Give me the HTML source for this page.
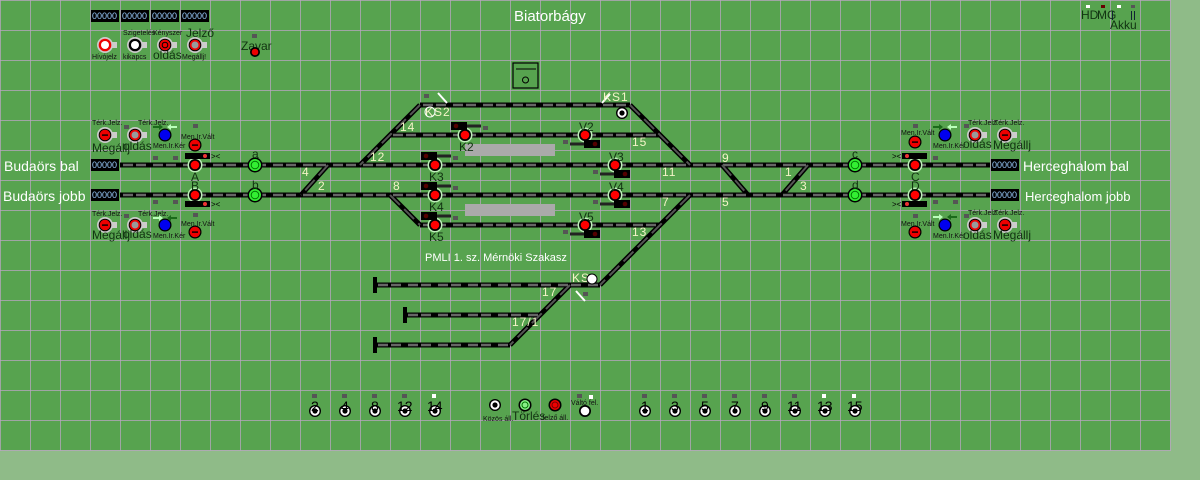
<!DOCTYPE html>
<html><head><meta charset="utf-8"><style>
html,body{margin:0;padding:0;background:#8fbb88;width:1200px;height:480px;overflow:hidden}
svg{display:block}
text{font-family:"Liberation Sans",sans-serif}
.t{font-size:7px;fill:#111}
.l{font-size:12px;fill:#113311}
.bn{font-size:14px;fill:#000}
.n{font-size:12px;fill:#f4f4c8;letter-spacing:1px}
.w{fill:#fff}
.cnt{font-size:9px;fill:#9cf}
</style></head><body>
<svg width="1200" height="480" viewBox="0 0 1200 480" xmlns="http://www.w3.org/2000/svg">
<defs>
<pattern id="g" width="30" height="30" patternUnits="userSpaceOnUse">
<path d="M0 0H30M0 0V30" stroke="#b9a6c0" stroke-width="1.5" fill="none"/>
</pattern>
<g id="sr"><circle r="7.5" fill="#bdf0b8"/><circle r="6" fill="#000"/><circle r="4.3" fill="#f00"/></g>
<g id="sg"><circle r="7.5" fill="#000"/><circle r="6" fill="#3e3"/><circle r="3.8" fill="none" stroke="#070" stroke-width="1"/></g>
<g id="bm"><rect x="0" y="-3" width="12" height="6" fill="#ccc"/><circle r="8" fill="#ccc"/><circle r="6.3" fill="#000"/><circle r="5.3" fill="#e00"/><rect x="-3" y="-0.6" width="6" height="1.4" fill="#000"/></g>
<g id="bo"><rect x="0" y="-3" width="12" height="6" fill="#ccc"/><circle r="8" fill="#ccc"/><circle r="6.3" fill="#000"/><circle r="5.3" fill="#e00"/><circle r="3.5" fill="#999"/></g>
<g id="bw"><rect x="0" y="-3" width="12" height="6" fill="#ccc"/><circle r="8" fill="#ccc"/><circle r="6.3" fill="#e00"/><circle r="4" fill="#fff"/></g>
<g id="bk"><rect x="0" y="-3" width="12" height="6" fill="#ccc"/><circle r="8" fill="#ccc"/><circle r="6.3" fill="#000"/><circle r="4" fill="#fff"/></g>
<g id="bb"><circle r="6.5" fill="#000"/><circle r="5.3" fill="#00e"/></g>
<g id="br"><circle r="6.5" fill="#000"/><circle r="5.3" fill="#e00"/><rect x="-3" y="-0.6" width="6" height="1.4" fill="#000"/></g>
<g id="bt"><circle r="6" fill="#000"/><circle r="4.6" fill="#fff"/><circle r="2.6" fill="#000"/></g>
<g id="dt"><rect x="-3" y="-2" width="5" height="4" fill="#555"/></g>
<g id="shL"><rect x="0" y="-4" width="16" height="8" fill="#000"/><circle cx="5" cy="0" r="2.3" fill="#500"/><rect x="16" y="-1.5" width="14" height="3" fill="#222"/></g>
</defs>
<rect x="0" y="0" width="1170" height="450" fill="#57a34f"/>
<rect x="0" y="0" width="1171" height="451" fill="url(#g)"/>

<g fill="none" stroke-linecap="butt">
<g stroke="#000" stroke-width="5">
<path d="M120 165H990M120 195H990M420 105H630M390 135H660M420 225H660M375 285H600M405 315H540M375 345H510"/>
<path d="M420 105L360 165M630 105L690 165M390 195L420 225M690 195L600 285M570 285L510 345M328 165L301 195M722 165L748 195M808 165L782 195"/>
<path d="M375 277V293M405 307V323M375 337V353" stroke-width="4"/>
</g>
<g stroke="#666" stroke-width="2.5" stroke-dasharray="10 3 10 7" stroke-dashoffset="-3">
<path d="M120 165H990M120 195H990M420 105H630M390 135H660M420 225H660M375 285H600M405 315H540M375 345H510"/>
</g>
<g stroke="#555" stroke-width="2" stroke-dasharray="14 6">
<path d="M420 105L360 165M630 105L690 165M390 195L420 225M690 195L600 285M570 285L510 345M328 165L301 195M722 165L748 195M808 165L782 195"/>
</g>
</g>
<path d="M438 93L447 103M602 103L610 94M576 291L585 301" stroke="#fff" stroke-width="2"/>

<rect x="465" y="144" width="90" height="12" fill="#aaa"/>
<rect x="465" y="204" width="90" height="12" fill="#aaa"/>
<rect x="513" y="63" width="25" height="25" fill="none" stroke="#000" stroke-width="1.2"/>
<line x1="516" y1="69" x2="536" y2="69" stroke="#000"/>
<circle cx="525.5" cy="80" r="3" fill="none" stroke="#000"/>

<g>
<rect x="91" y="10" width="28" height="12" fill="#000"/><rect x="121" y="10" width="28" height="12" fill="#000"/>
<rect x="151" y="10" width="28" height="12" fill="#000"/><rect x="181" y="10" width="28" height="12" fill="#000"/>
<rect x="91" y="159" width="28" height="12" fill="#000"/><rect x="91" y="189" width="28" height="12" fill="#000"/>
<rect x="991" y="159" width="28" height="12" fill="#000"/><rect x="991" y="189" width="28" height="12" fill="#000"/>
<text class="cnt" x="92" y="19">00000</text><text class="cnt" x="122" y="19">00000</text>
<text class="cnt" x="152" y="19">00000</text><text class="cnt" x="182" y="19">00000</text>
<text class="cnt" x="92" y="168">00000</text><text class="cnt" x="92" y="198">00000</text>
<text class="cnt" x="992" y="168">00000</text><text class="cnt" x="992" y="198">00000</text>
</g>

<text x="514" y="21" class="w" font-size="15">Biatorbágy</text>
<text x="4" y="171" class="w" font-size="14">Budaörs bal</text>
<text x="3" y="201" class="w" font-size="14">Budaörs jobb</text>
<text x="1023" y="171" class="w" font-size="14">Herceghalom bal</text>
<text x="1025" y="201" class="w" font-size="13">Herceghalom jobb</text>
<text x="425" y="261" class="w" font-size="11">PMLI 1. sz. Mérnöki Szakasz</text>

<use href="#bw" x="105" y="45"/><use href="#bk" x="135" y="45"/><use href="#bm" x="165" y="45"/><use href="#bo" x="195" y="45"/>
<circle cx="165" cy="45" r="3.3" fill="#000"/><circle cx="165" cy="45" r="2.3" fill="#e00"/>
<text class="t" x="123" y="35" font-size="6">Szigetelés</text><text class="t" x="153" y="35" font-size="6">Kényszer</text>
<text class="l" x="186" y="37" font-size="11">Jelző</text>
<text class="t" x="92" y="59" font-size="9">Hívójelz</text><text class="t" x="123" y="59" font-size="9">kikapcs</text>
<text class="l" x="153" y="59" font-size="11">oldás</text><text class="t" x="182" y="59" font-size="9">Megállj!</text>
<text class="l" x="241" y="50">Zavar</text><circle cx="255" cy="52" r="5" fill="#000"/><circle cx="255" cy="52" r="3.3" fill="#e00"/><use href="#dt" x="255" y="36"/>

<g>
<use href="#bm" x="105" y="135"/><use href="#bo" x="135" y="135"/><use href="#bb" x="165" y="135"/><use href="#br" x="195" y="145"/>
<text class="t" x="92" y="125">Térk.Jelz.</text><text class="t" x="138" y="125" font-size="6">Térk.Jelz.</text>
<text class="l" x="92" y="152">Megállj</text><text class="l" x="123" y="150">oldás</text>
<text class="t" x="153" y="148" font-size="6">Men.Ir.Kér</text><text class="t" x="181" y="139" font-size="6">Men.Ir.Vált</text>
<path d="M153 126h6v-2l4 3-4 3v-2h-6z" fill="#1a6a1a"/><path d="M177 126h-6v-2l-4 3 4 3v-2h6z" fill="#bfb"/>
<use href="#dt" x="127" y="127"/><use href="#dt" x="196" y="126"/>
<use href="#bm" x="105" y="225"/><use href="#bo" x="135" y="225"/><use href="#bb" x="165" y="225"/><use href="#br" x="195" y="232"/>
<text class="t" x="92" y="216">Térk.Jelz.</text><text class="t" x="138" y="216" font-size="6">Térk.Jelz.</text>
<text class="l" x="92" y="239">Megállj</text><text class="l" x="123" y="238">oldás</text>
<text class="t" x="153" y="238" font-size="6">Men.Ir.Kér</text><text class="t" x="181" y="226" font-size="6">Men.Ir.Vált</text>
<path d="M153 217h6v-2l4 3-4 3v-2h-6z" fill="#bfb"/><path d="M177 217h-6v-2l-4 3 4 3v-2h6z" fill="#1a6a1a"/>
<use href="#dt" x="127" y="216"/><use href="#dt" x="196" y="215"/>
<use href="#dt" x="156" y="158"/><use href="#dt" x="176" y="158"/><use href="#dt" x="156" y="202"/><use href="#dt" x="176" y="202"/>
</g>
<g>
<use href="#br" x="915" y="142"/><use href="#bb" x="945" y="135"/><use href="#bo" x="975" y="135"/><use href="#bm" x="1005" y="135"/>
<text class="t" x="901" y="135" font-size="6">Men.Ir.Vált</text><text class="t" x="933" y="148" font-size="6">Men.Ir.Kér</text>
<text class="l" x="963" y="148">oldás</text><text class="l" x="993" y="149">Megállj</text>
<text class="t" x="968" y="125" font-size="6">Térk.Jelz.</text><text class="t" x="994" y="125" font-size="6">Térk.Jelz.</text>
<path d="M933 126h6v-2l4 3-4 3v-2h-6z" fill="#1a6a1a"/><path d="M957 126h-6v-2l-4 3 4 3v-2h6z" fill="#bfb"/>
<use href="#dt" x="916" y="126"/><use href="#dt" x="967" y="126"/>
<use href="#br" x="915" y="232"/><use href="#bb" x="945" y="225"/><use href="#bo" x="975" y="225"/><use href="#bm" x="1005" y="225"/>
<text class="t" x="901" y="226" font-size="6">Men.Ir.Vált</text><text class="t" x="933" y="238" font-size="6">Men.Ir.Kér</text>
<text class="l" x="963" y="239">oldás</text><text class="l" x="993" y="239">Megállj</text>
<text class="t" x="968" y="215" font-size="6">Térk.Jelz.</text><text class="t" x="994" y="215" font-size="6">Térk.Jelz.</text>
<path d="M933 216h6v-2l4 3-4 3v-2h-6z" fill="#bfb"/><path d="M957 216h-6v-2l-4 3 4 3v-2h6z" fill="#1a6a1a"/>
<use href="#dt" x="916" y="216"/><use href="#dt" x="967" y="216"/>
<use href="#dt" x="936" y="158"/><use href="#dt" x="936" y="202"/><use href="#dt" x="956" y="202"/>
</g>

<use href="#sr" x="195" y="165"/><use href="#sr" x="195" y="195"/><use href="#sg" x="255" y="165"/><use href="#sg" x="255" y="195"/>
<use href="#sr" x="915" y="165"/><use href="#sr" x="915" y="195"/><use href="#sg" x="855" y="165"/><use href="#sg" x="855" y="195"/>
<text class="l" x="191" y="181">A</text><text class="l" x="191" y="190">B</text><text class="l" x="252" y="158" font-size="9">a</text><text class="l" x="252" y="189" font-size="9">b</text>
<text class="l" x="911" y="181">C</text><text class="l" x="911" y="190">D</text><text class="l" x="852" y="158" font-size="9">c</text><text class="l" x="852" y="189" font-size="9">d</text>
<g fill="#000"><rect x="185" y="153" width="25" height="6"/><rect x="185" y="201" width="25" height="6"/><rect x="902" y="153" width="25" height="6"/><rect x="902" y="201" width="25" height="6"/></g>
<circle cx="205" cy="156" r="2" fill="#e33"/><circle cx="205" cy="204" r="2" fill="#e33"/><circle cx="907" cy="156" r="2" fill="#e33"/><circle cx="907" cy="204" r="2" fill="#e33"/>
<text x="211" y="159" font-size="8" fill="#000">&gt;&lt;</text><text x="211" y="207" font-size="8" fill="#000">&gt;&lt;</text>
<text x="892" y="159" font-size="8" fill="#000">&gt;&lt;</text><text x="892" y="207" font-size="8" fill="#000">&gt;&lt;</text>

<use href="#sr" x="465" y="135"/><use href="#sr" x="435" y="165"/><use href="#sr" x="435" y="195"/><use href="#sr" x="435" y="225"/>
<use href="#sr" x="585" y="135"/><use href="#sr" x="615" y="165"/><use href="#sr" x="615" y="195"/><use href="#sr" x="585" y="225"/>
<text class="l" x="459" y="151">K2</text><text class="l" x="429" y="181">K3</text><text class="l" x="429" y="211">K4</text><text class="l" x="429" y="241">K5</text>
<text class="l" x="579" y="131">V2</text><text class="l" x="609" y="161">V3</text><text class="l" x="609" y="191">V4</text><text class="l" x="579" y="221">V5</text>
<use href="#shL" x="451" y="126"/><use href="#shL" x="421" y="156"/><use href="#shL" x="421" y="186"/><use href="#shL" x="421" y="216"/>
<g transform="translate(600 144) scale(-1 1)"><use href="#shL"/></g>
<g transform="translate(630 174) scale(-1 1)"><use href="#shL"/></g>
<g transform="translate(630 204) scale(-1 1)"><use href="#shL"/></g>
<g transform="translate(600 234) scale(-1 1)"><use href="#shL"/></g>
<use href="#dt" x="486" y="128"/><use href="#dt" x="456" y="158"/><use href="#dt" x="456" y="188"/><use href="#dt" x="456" y="218"/>
<use href="#dt" x="566" y="142"/><use href="#dt" x="596" y="172"/><use href="#dt" x="596" y="202"/><use href="#dt" x="566" y="232"/>
<use href="#dt" x="427" y="96"/><use href="#dt" x="586" y="294"/>

<g class="n">
<text x="400" y="131">14</text><text x="370" y="161">12</text><text x="302" y="176">4</text><text x="318" y="190">2</text><text x="393" y="190">8</text>
<text x="632" y="146">15</text><text x="662" y="176">11</text><text x="662" y="206">7</text><text x="632" y="236">13</text>
<text x="722" y="162">9</text><text x="722" y="206">5</text><text x="785" y="176">1</text><text x="800" y="190">3</text>
<text x="542" y="296">17</text><text x="512" y="326">17/1</text>
<text x="425" y="116">KS2</text><text x="603" y="101">KS1</text><text x="572" y="282">KS</text>
</g>
<use href="#bt" x="622" y="113"/><circle cx="430" cy="112" r="5" fill="none" stroke="#fff"/><circle cx="592" cy="279" r="5" fill="#fff" stroke="#000"/>

<g>
<use href="#bt" x="315" y="411"/><use href="#bt" x="345" y="411"/><use href="#bt" x="375" y="411"/><use href="#bt" x="405" y="411"/><use href="#bt" x="435" y="411"/>
<use href="#bt" x="645" y="411"/><use href="#bt" x="675" y="411"/><use href="#bt" x="705" y="411"/><use href="#bt" x="735" y="411"/><use href="#bt" x="765" y="411"/>
<use href="#bt" x="795" y="411"/><use href="#bt" x="825" y="411"/><use href="#bt" x="855" y="411"/>
<g class="bn">
<text x="311" y="411">2</text><text x="341" y="411">4</text><text x="371" y="411">8</text><text x="397" y="411">12</text><text x="427" y="411">14</text>
<text x="641" y="411">1</text><text x="671" y="411">3</text><text x="701" y="411">5</text><text x="731" y="411">7</text><text x="761" y="411">9</text>
<text x="787" y="411">11</text><text x="817" y="411">13</text><text x="847" y="411">15</text>
</g>
<use href="#dt" x="315" y="396"/><use href="#dt" x="345" y="396"/><use href="#dt" x="375" y="396"/><use href="#dt" x="405" y="396"/>
<rect x="432" y="394" width="4" height="4" fill="#fff"/>
<use href="#dt" x="645" y="396"/><use href="#dt" x="675" y="396"/><use href="#dt" x="705" y="396"/><use href="#dt" x="735" y="396"/><use href="#dt" x="765" y="396"/><use href="#dt" x="795" y="396"/>
<rect x="822" y="394" width="4" height="4" fill="#fff"/><rect x="852" y="394" width="4" height="4" fill="#fff"/>
<use href="#bt" x="495" y="405"/><text class="t" x="483" y="421" font-size="6">Közös áll.</text>
<circle cx="525" cy="405" r="6.5" fill="#000"/><circle cx="525" cy="405" r="5" fill="#8e8"/><circle cx="525" cy="405" r="3" fill="none" stroke="#070"/>
<text class="l" x="512" y="420">Törlés</text>
<circle cx="555" cy="405" r="6.5" fill="#000"/><circle cx="555" cy="405" r="5" fill="#e00"/><circle cx="555" cy="405" r="3" fill="none" stroke="#700"/>
<text class="t" x="541" y="420" font-size="7">Jelző áll.</text>
<circle cx="585" cy="411" r="6" fill="#000"/><circle cx="585" cy="411" r="4.3" fill="#fff"/>
<text class="t" x="571" y="405" font-size="6">Váltó fel.</text><use href="#dt" x="580" y="396"/><rect x="589" y="395" width="4" height="4" fill="#fff"/>
</g>

<rect x="1086" y="5" width="4" height="3" fill="#fff"/><rect x="1101" y="5" width="4" height="3" fill="#600"/>
<rect x="1117" y="5" width="4" height="3" fill="#fff"/><rect x="1131" y="5" width="4" height="3" fill="#555"/>
<text class="l" x="1081" y="19" font-size="9">HD</text><text class="l" x="1097" y="19" font-size="9">MG</text>
<text class="l" x="1110" y="29" font-size="14">Akku</text>
<rect x="1112" y="11" width="1" height="9" fill="#123"/><rect x="1131" y="11" width="1" height="9" fill="#123"/><rect x="1134" y="11" width="1" height="9" fill="#123"/>
</svg>
</body></html>
